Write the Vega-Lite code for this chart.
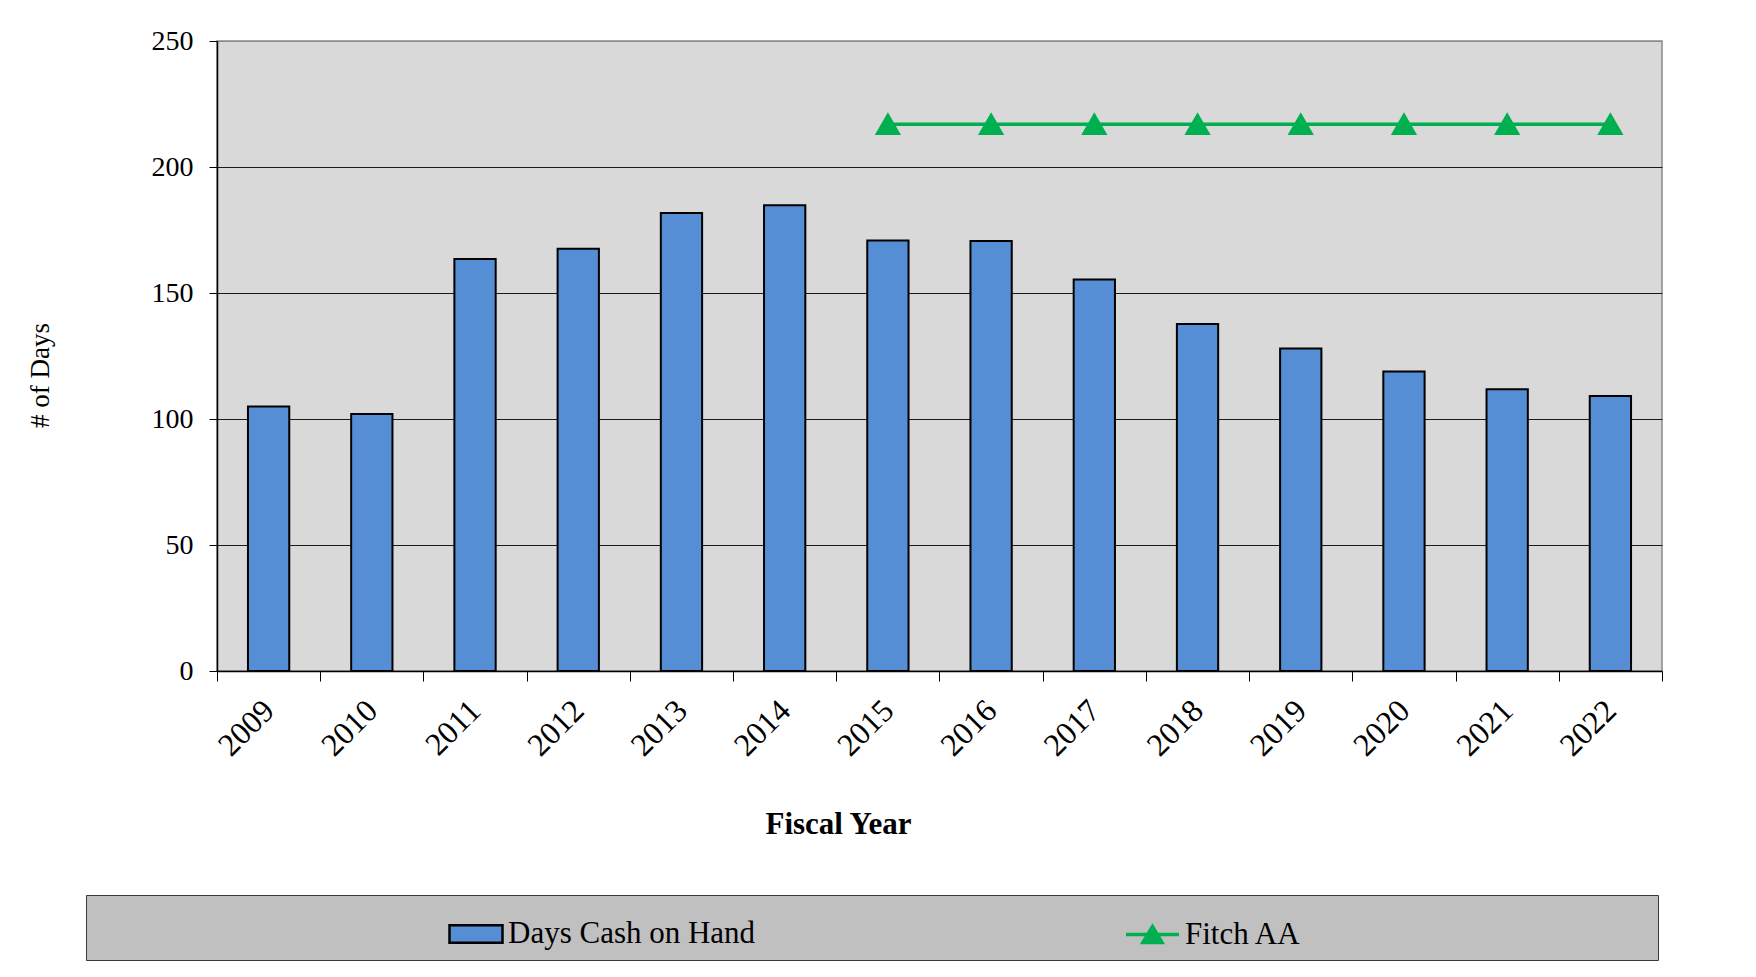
{
  "$schema": "https://vega.github.io/schema/vega-lite/v6.json",
  "width": 1445,
  "height": 630,
  "autosize": {"type": "none"},
  "padding": {"left": 217, "top": 41, "right": 94, "bottom": 306},
  "background": "white",
  "data": {
    "values": [
      {"year": "2009", "days": 105, "fitch": null},
      {"year": "2010", "days": 102, "fitch": null},
      {"year": "2011", "days": 163.5, "fitch": null},
      {"year": "2012", "days": 167.6, "fitch": null},
      {"year": "2013", "days": 181.7, "fitch": null},
      {"year": "2014", "days": 184.8, "fitch": null},
      {"year": "2015", "days": 170.8, "fitch": 217},
      {"year": "2016", "days": 170.6, "fitch": 217},
      {"year": "2017", "days": 155.4, "fitch": 217},
      {"year": "2018", "days": 137.7, "fitch": 217},
      {"year": "2019", "days": 128, "fitch": 217},
      {"year": "2020", "days": 118.8, "fitch": 217},
      {"year": "2021", "days": 111.8, "fitch": 217},
      {"year": "2022", "days": 109.1, "fitch": 217}
    ]
  },
  "encoding": {
    "x": {
      "field": "year",
      "type": "nominal",
      "scale": {"paddingInner": 0, "paddingOuter": 0},
      "axis": {
        "title": "Fiscal Year",
        "tickBand": "extent",
        "tickSize": 10,
        "tickColor": "#000",
        "domainColor": "#000",
        "domainWidth": 1.5,
        "labelAngle": -45,
        "labelAlign": "right",
        "labelBaseline": "middle",
        "labelPadding": 24,
        "labelFont": "Liberation Serif",
        "labelFontSize": 32,
        "labelColor": "#000",
        "titleFont": "Liberation Serif",
        "titleFontSize": 31,
        "titleFontWeight": "bold",
        "titleColor": "#000",
        "titleX": 621,
        "titleY": 153,
        "titleBaseline": "middle"
      }
    }
  },
  "layer": [
    {
      "mark": {"type": "bar", "stroke": "#000", "strokeWidth": 2, "width": {"band": 0.4}},
      "encoding": {
        "y": {
          "field": "days",
          "type": "quantitative",
          "scale": {"domain": [0, 250], "nice": false},
          "axis": {
            "title": "# of Days",
            "values": [0, 50, 100, 150, 200, 250],
            "domainColor": "#000",
            "domainWidth": 1.5,
            "tickColor": "#000",
            "tickSize": 8,
            "labelPadding": 16,
            "labelFont": "Liberation Serif",
            "labelFontSize": 28,
            "labelColor": "#000",
            "titleFont": "Liberation Serif",
            "titleFontSize": 27,
            "titleFontWeight": "normal",
            "titleColor": "#000",
            "titleAngle": -90,
            "titleX": -177,
            "titleY": 334,
            "titleAlign": "center",
            "titleBaseline": "middle",
            "gridColor": {"condition": {"test": "datum.value == 250", "value": "#8a8a8a"}, "value": "#1a1a1a"},
            "gridWidth": 1.2,
            "gridOpacity": 1
          }
        },
        "fill": {
          "datum": "Days Cash on Hand",
          "type": "nominal",
          "scale": {"domain": ["Days Cash on Hand"], "range": ["#558ed5"]},
          "legend": {
            "orient": "none",
            "legendX": -131,
            "legendY": 854,
            "zindex": 0,
            "title": "\u200b",
            "titleOrient": "left",
            "titlePadding": 351,
            "titleFontSize": 8,
            "fillColor": "#c0c0c0",
            "strokeColor": "#3a3a3a",
            "symbolType": "M-1,-0.33H1V0.33H-1Z",
            "symbolStrokeColor": "#000000",
            "symbolStrokeWidth": 2.5,
            "symbolOpacity": 1,
            "labelExpr": "pad(datum.label, 132, '\u00a0') + '\u200b'"
          }
        }
      }
    },
    {
      "transform": [{"filter": "datum.fitch != null"}],
      "mark": {
        "type": "line",
        "strokeWidth": 3.5,
        "point": {"shape": "triangle-up", "filled": true, "size": 520, "fill": "#00b050", "opacity": 1}
      },
      "encoding": {
        "y": {"field": "fitch", "type": "quantitative"},
        "stroke": {
          "datum": "Fitch AA",
          "type": "nominal",
          "scale": {"domain": ["Fitch AA"], "range": ["#00b050"]},
          "legend": {
            "orient": "none",
            "legendX": 896,
            "legendY": 854,
            "zindex": 1,
            "title": null,
            "symbolType": "M-1,0H1M-0.36,0.3L0,-0.3L0.36,0.3Z",
            "symbolStrokeWidth": 3.5,
            "symbolFillColor": "#00b050",
            "symbolOpacity": 1
          }
        }
      }
    }
  ],
  "config": {
    "font": "Liberation Serif",
    "view": {"fill": "#d9d9d9", "stroke": "#8a8a8a", "strokeWidth": 1.5},
    "axis": {"grid": false},
    "axisY": {"grid": true},
    "legend": {
      "padding": 11,
      "labelFont": "Liberation Serif",
      "labelFontSize": 31,
      "labelColor": "#000",
      "labelLimit": 1400,
      "labelOffset": 4,
      "symbolSize": 2809
    }
  }
}
